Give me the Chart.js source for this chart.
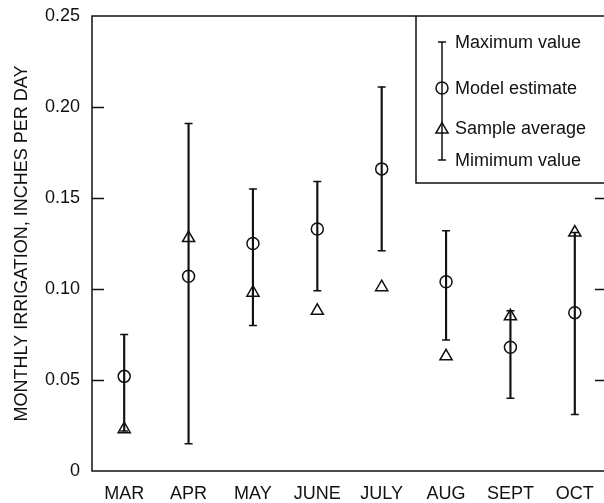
<!DOCTYPE html>
<html>
<head>
<meta charset="utf-8">
<title>Monthly irrigation</title>
<script src="https://cdn.jsdelivr.net/npm/chart.js@4/dist/chart.umd.min.js"></script>
<style>
  html, body { margin: 0; padding: 0; background: #fff; overflow: hidden; }
  #wrap { width: 608px; height: 503px; }
</style>
</head>
<body>
<div id="wrap"><canvas id="irrigationChart" width="608" height="503"></canvas></div>
<script>
// values (inches per day)
const months = ['MAR', 'APR', 'MAY', 'JUNE', 'JULY', 'AUG', 'SEPT', 'OCT'];
const maxValue = [0.075, 0.191, 0.155, 0.159, 0.211, 0.132, 0.088, 0.131];
const minValue = [0.022, 0.015, 0.080, 0.099, 0.121, 0.072, 0.040, 0.031];
const modelEstimate = [0.052, 0.107, 0.125, 0.133, 0.166, 0.104, 0.068, 0.087];
const sampleAverage = [0.023, 0.128, 0.098, 0.088, 0.101, 0.063, 0.085, 0.131];
const yTickLabels = ['0', '0.05', '0.10', '0.15', '0.20', '0.25'];

const legendItems = ['Maximum value', 'Model estimate', 'Sample average', 'Mimimum value'];

const FONT = "'Liberation Sans', Arial, Helvetica, sans-serif";
const INK = '#111';

// frame, inward ticks and the legend box
const framePlugin = {
    id: 'frame',
    afterDraw(chart) {
        const ctx = chart.ctx;
        const a = chart.chartArea;
        const y = chart.scales.y;
        ctx.save();
        ctx.strokeStyle = INK;
        ctx.lineWidth = 1.5;

        // inward ticks, left and right
        ctx.beginPath();
        for (let v = 0.05; v < 0.249; v += 0.05) {
            const py = Math.round(y.getPixelForValue(v)) + 0.5;
            ctx.moveTo(a.left, py);
            ctx.lineTo(a.left + 12, py);
            ctx.moveTo(a.right - 12, py);
            ctx.lineTo(a.right, py);
        }
        ctx.stroke();

        // legend box
        const lx = 416, ly = a.top, lb = 183;
        ctx.fillStyle = '#fff';
        ctx.fillRect(lx, ly, chart.width - lx, lb - ly);
        ctx.beginPath();
        ctx.moveTo(lx, ly);
        ctx.lineTo(lx, lb);
        ctx.lineTo(chart.width, lb);
        ctx.stroke();

        const ix = 442;
        const rows = [42, 88, 128, 160];
        ctx.beginPath();
        ctx.moveTo(ix, rows[0]);
        ctx.lineTo(ix, rows[3]);
        ctx.moveTo(ix - 4, rows[0]);
        ctx.lineTo(ix + 4, rows[0]);
        ctx.moveTo(ix - 4, rows[3]);
        ctx.lineTo(ix + 4, rows[3]);
        ctx.stroke();
        const sty = { borderWidth: 1.5, rotation: 0 };
        ctx.fillStyle = 'rgba(0,0,0,0)';
        Chart.helpers.drawPoint(ctx, Object.assign({ pointStyle: 'circle', radius: 6 }, sty), ix, rows[1]);
        Chart.helpers.drawPoint(ctx, Object.assign({ pointStyle: 'triangle', radius: 7 }, sty), ix, rows[2] + 1.5);

        ctx.fillStyle = INK;
        ctx.font = '18px ' + FONT;
        ctx.textAlign = 'left';
        ctx.textBaseline = 'middle';
        legendItems.forEach((t, i) => ctx.fillText(t, 455, rows[i] + 1));

        // plot frame (left, top, bottom)
        ctx.beginPath();
        ctx.moveTo(a.right, a.top);
        ctx.lineTo(a.left, a.top);
        ctx.lineTo(a.left, a.bottom);
        ctx.lineTo(a.right, a.bottom);
        ctx.stroke();
        ctx.restore();
    }
};

const markerDataset = (data, style, radius) => ({
    type: 'line',
    data: data,
    showLine: false,
    pointStyle: style,
    pointRadius: radius,
    pointHoverRadius: radius,
    pointBorderWidth: 1.5,
    pointBorderColor: INK,
    pointBackgroundColor: 'rgba(0,0,0,0)'
});

new Chart(document.getElementById('irrigationChart'), {
    type: 'bar',
    data: {
        labels: months,
        datasets: [
            {
                // range line from minimum to maximum
                data: months.map((m, i) => [minValue[i], maxValue[i]]),
                backgroundColor: INK,
                borderWidth: 0,
                barThickness: 1.5
            },
            markerDataset(maxValue, 'line', 4),
            markerDataset(minValue, 'line', 4),
            markerDataset(modelEstimate, 'circle', 6),
            markerDataset(sampleAverage, 'triangle', 7)
        ]
    },
    options: {
        responsive: false,
        animation: false,
        devicePixelRatio: 1,
        layout: { autoPadding: false, padding: { top: 16, right: 1, bottom: 0, left: 0 } },
        plugins: {
            legend: { display: false },
            tooltip: { enabled: false }
        },
        scales: {
            x: {
                offset: true,
                grid: { display: false, drawTicks: false },
                border: { display: false },
                ticks: {
                    color: INK,
                    font: { family: FONT, size: 18 },
                    padding: 12,
                    autoSkip: false,
                    maxRotation: 0
                },
                afterFit(scale) { scale.height = 32; }
            },
            y: {
                min: 0,
                max: 0.25,
                grid: { display: false, drawTicks: false },
                border: { display: false },
                ticks: {
                    stepSize: 0.05,
                    color: INK,
                    font: { family: FONT, size: 18 },
                    padding: 12,
                    callback: (v, i) => yTickLabels[i]
                },
                title: {
                    display: true,
                    text: 'MONTHLY IRRIGATION, INCHES PER DAY',
                    color: INK,
                    font: { family: FONT, size: 18 },
                    padding: { top: 11, bottom: 0 }
                },
                afterFit(scale) {
                    scale.width = 92;
                    scale.paddingTop = 0;
                    scale.paddingBottom = 0;
                }
            }
        }
    },
    plugins: [framePlugin]
});
</script>
</body>
</html>
